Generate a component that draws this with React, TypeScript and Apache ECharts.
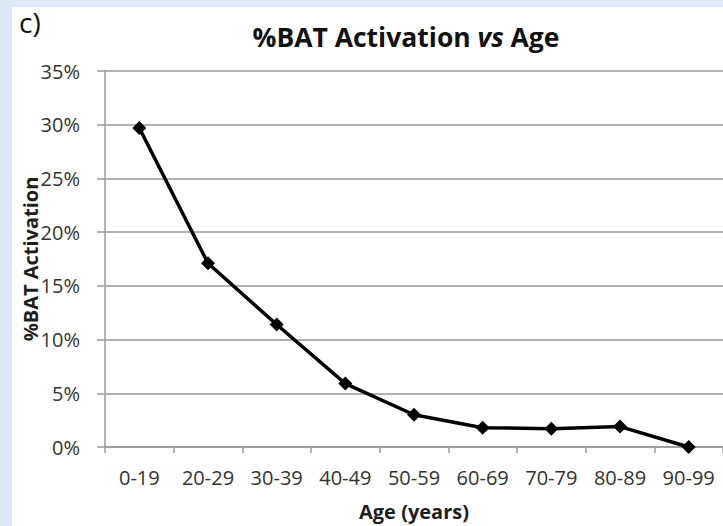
import React, { useEffect, useRef } from "react";
import * as echarts from "echarts";

const categories = ["0-19", "20-29", "30-39", "40-49", "50-59", "60-69", "70-79", "80-89", "90-99"];
const activation = [0.297, 0.171, 0.114, 0.059, 0.03, 0.018, 0.017, 0.019, 0.0];
const panelLabel = "c)";
const xName = "Age (years)";
const yName = "%BAT Activation";

const FONT = "Open Sans";

export default function App() {
  const ref = useRef<HTMLDivElement>(null);
  useEffect(() => {
    if (!ref.current) return;
    const chart = echarts.init(ref.current, undefined, { renderer: "svg" });
    chart.setOption({
      animation: false,
      backgroundColor: "#dce8f5",
      graphic: [
        {
          type: "rect",
          z: -10,
          shape: { x: 12, y: 7, width: 720, height: 530 },
          style: { fill: "#ffffff" },
        },
        {
          type: "text",
          left: 19,
          top: 8,
          style: { text: panelLabel, font: `28px "${FONT}"`, fill: "#111111" },
        },
      ],
      title: {
        text: "{b|%BAT Activation }{i|vs}{b| Age}",
        left: 401,
        textAlign: "center",
        top: 18,
        textStyle: {
          rich: {
            b: { fontFamily: FONT, fontWeight: "bold", fontSize: 26.5, color: "#111111" },
            i: { fontFamily: FONT, fontWeight: "bold", fontStyle: "italic", fontSize: 26.5, color: "#111111" },
          },
        },
      },
      grid: { left: 105, right: 0, top: 71, bottom: 79, containLabel: false },
      xAxis: {
        type: "category",
        data: categories,
        boundaryGap: true,
        name: xName,
        nameLocation: "middle",
        nameGap: 54,
        nameMoveOverlap: false,
        nameTextStyle: { fontFamily: FONT, fontWeight: "bold", fontSize: 20, color: "#1e1e1e" },
        axisLine: { lineStyle: { color: "#999999", width: 1.5 } },
        axisTick: { show: true, length: 6, lineStyle: { color: "#999999", width: 1.5 } },
        axisLabel: { fontFamily: FONT, fontSize: 20, color: "#333333", margin: 20 },
      },
      yAxis: {
        type: "value",
        min: 0,
        max: 0.35,
        interval: 0.05,
        name: yName,
        nameLocation: "middle",
        nameRotate: 90,
        nameGap: 65,
        nameMoveOverlap: false,
        nameTextStyle: { fontFamily: FONT, fontWeight: "bold", fontSize: 20, color: "#1e1e1e" },
        axisLine: { show: true, lineStyle: { color: "#999999", width: 1.5 } },
        axisTick: { show: true, length: 8, lineStyle: { color: "#999999", width: 1.5 } },
        splitLine: { lineStyle: { color: "#999999", width: 1.5 } },
        axisLabel: {
          fontFamily: FONT,
          fontSize: 20,
          color: "#333333",
          margin: 25,
          formatter: (v: number) => `${Math.round(v * 100)}%`,
        },
      },
      series: [
        {
          type: "line",
          data: activation,
          symbol: "diamond",
          symbolSize: 14,
          itemStyle: { color: "#000000" },
          lineStyle: { color: "#000000", width: 3.5 },
        },
      ],
    });
    return () => chart.dispose();
  }, []);
  return <div ref={ref} style={{ position: "fixed", left: 0, top: 0, width: 723, height: 526 }} />;
}
